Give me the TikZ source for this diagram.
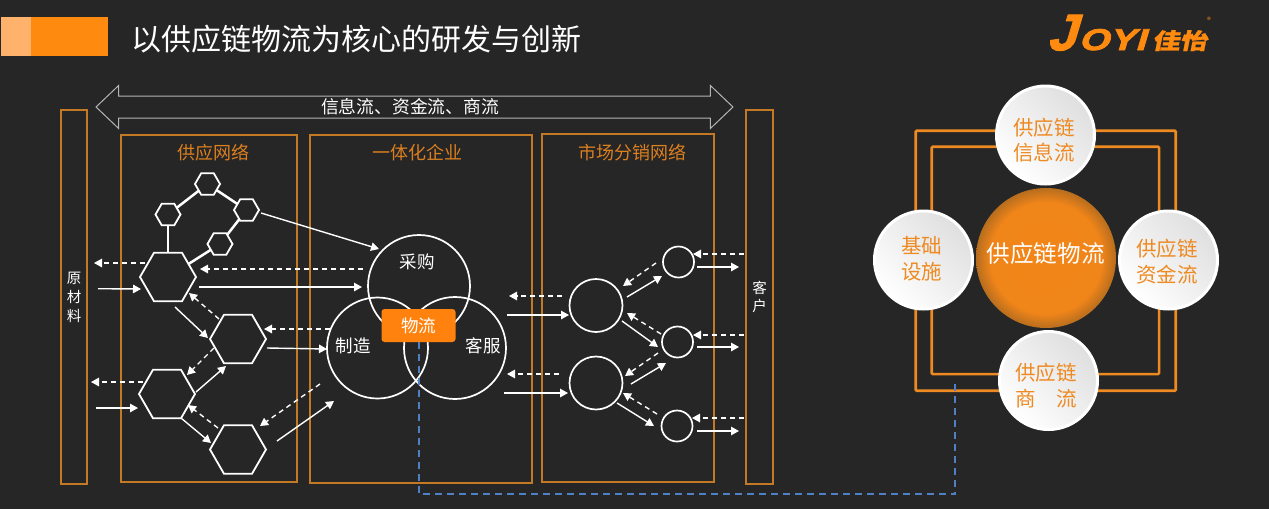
\documentclass[tikz,border=0pt]{standalone}
\usepackage{fontspec}
\setmainfont{Noto Sans CJK SC}
\newfontfamily\logoa[FakeSlant=.3,FakeBold=2.5]{Liberation Sans}
\newfontfamily\logoc[FakeSlant=.3,FakeStretch=1.3,FakeBold=2.5]{Liberation Sans}
\newfontfamily\logob[FakeSlant=.2,FakeStretch=1.25,FakeBold=1]{Noto Sans CJK SC}
\usetikzlibrary{arrows.meta,shapes.geometric,shapes.arrows}
\definecolor{bgc}{HTML}{262626}
\definecolor{boxc}{HTML}{C47A24}
\definecolor{orgc}{HTML}{EE8A22}
\definecolor{flagc}{HTML}{FF8A10}
\definecolor{flagl}{HTML}{FFB26B}
\definecolor{wlc}{HTML}{FF820E}
\definecolor{bluec}{HTML}{4F7FC4}
\definecolor{greyc}{HTML}{B4B4B4}
\pgfdeclareradialshading{orbshade}{\pgfpoint{0bp}{0bp}}{rgb(0bp)=(0.95,0.52,0.09); rgb(20bp)=(0.94,0.52,0.10); rgb(25bp)=(0.72,0.43,0.12); rgb(50bp)=(0.72,0.43,0.12)}
\newcommand\cn[5]{\draw[#1] ([shift={(#3)}]#2.center) -- ([shift={(#5)}]#4.center);}
\tikzset{
  x=1pt,y=-1pt,
  txt/.style={text=white,inner sep=0,outer sep=0,align=center},
  tbox/.style={draw=boxc,line width=1.4pt,rectangle,inner sep=0,outer sep=0},
  ttl/.style={text=orgc!92!black,inner sep=0,font=\fontsize{18}{21}\selectfont},
  hexbig/.style={regular polygon,regular polygon sides=6,draw=white,line width=1.8pt,minimum size=56pt,inner sep=0,outer sep=0},
  hexsm/.style={regular polygon,regular polygon sides=6,draw=white,line width=1.8pt,minimum size=25pt,inner sep=0,outer sep=0},
  link/.style={draw=white,line width=2.5pt},
  ring/.style={circle,draw=white,line width=1.7pt,inner sep=0,outer sep=0},
  sol/.style={draw=white,line width=1.4pt,-{Triangle[length=8pt,width=8.5pt]}},
  dsh/.style={draw=white,line width=1.4pt,dash pattern=on 5pt off 4pt,-{Triangle[length=8pt,width=8.5pt]}},
  frm/.style={rectangle,draw=orgc,line width=2.6pt,rounded corners=1pt,inner sep=0,outer sep=0},
  ball/.style={circle,draw=white,line width=3pt,inner sep=0,outer sep=0,minimum size=98pt,top color=gray!25,bottom color=white,shading angle=-45},
  balltxt/.style={text=orgc,inner sep=0,align=center,font=\fontsize{20.5}{25.5}\selectfont},
}
\begin{document}
\begin{tikzpicture}
\useasboundingbox[fill=bgc] (0,0) rectangle (1269,509);
% header
\node[fill=flagc,inner sep=0,minimum width=107pt,minimum height=39pt] (flag) at (54.5,36.5) {};
\node[fill=flagl,inner sep=0,minimum width=30pt,minimum height=39pt] (flagb) at (16,36.5) {};
\node[txt,anchor=west,font=\fontsize{30}{34}\selectfont] (title) at (131.5,39.5) {以供应链物流为核心的研发与创新};
% logo
\node[inner sep=0,text=flagc,anchor=base west] (logoj) at (1047,50) {{\logoa\bfseries\fontsize{51}{51}\selectfont J}\kern3pt{\logoc\bfseries\fontsize{30}{30}\selectfont OYI}};
\node[inner sep=0,text=flagc,anchor=base west,font=\logob\bfseries\fontsize{22}{22}\selectfont] (logoc) at (1152,49) {佳怡};
\node[inner sep=0,text=flagc,font=\fontsize{8}{8}\selectfont] (logor) at (1209,20) {®};
% top double arrow
\node[double arrow,draw=greyc,line width=1pt,minimum height=637pt,double arrow head extend=10.5pt,double arrow head indent=0pt,double arrow tip angle=87,inner sep=0,outer sep=0] (flow) at (414.5,107) {\rule{0pt}{21pt}};
\node[txt,font=\fontsize{17.8}{21}\selectfont] (flowt) at (410,107) {信息流、资金流、商流};
% big boxes
\node[tbox,minimum width=26pt,minimum height=374pt,txt,text=white,font=\fontsize{14.5}{19}\selectfont] (src) at (74,297) {原\\材\\料};
\node[tbox,minimum width=176pt,minimum height=347pt] (sup) at (209,308.5) {};
\node[tbox,minimum width=222pt,minimum height=348pt] (ent) at (421,309) {};
\node[tbox,minimum width=172pt,minimum height=348pt] (mkt) at (628,308) {};
\node[tbox,minimum width=27pt,minimum height=374pt,txt,text=white,font=\fontsize{14.5}{18}\selectfont] (cus) at (759.5,297) {客\\户};
\node[ttl] (supt) at (213,152.5) {供应网络};
\node[ttl] (entt) at (417,152.5) {一体化企业};
\node[ttl] (mktt) at (632,152.5) {市场分销网络};
% supply hexagons
\node[hexbig] (big1) at (168,277) {};
\node[hexbig] (hex2) at (238,339) {};
\node[hexbig] (hex3) at (167,394) {};
\node[hexbig] (hex4) at (238,449.5) {};
\node[hexsm] (st) at (207.5,184) {};
\node[hexsm] (sl) at (168,214.5) {};
\node[hexsm] (sr) at (246.5,210) {};
\node[hexsm] (sm) at (220,244) {};
\draw[link] (sl) -- (st);
\draw[link] (st) -- (sr);
\draw[link] (sr) -- (sm);
\draw[link] (sl) -- (big1);
\draw[link] (sm) -- (big1);
% enterprise circles
\node[ring,minimum size=102pt] (caigou) at (419,286) {};
\node[ring,minimum size=101pt] (zhizao) at (377.5,348) {};
\node[ring,minimum size=102pt] (kefu) at (455,348) {};
\node[txt,font=\fontsize{17.5}{21}\selectfont] (cgt) at (417,262) {采购};
\node[txt,font=\fontsize{17.5}{21}\selectfont] (zzt) at (353,346) {制造};
\node[txt,font=\fontsize{17.5}{21}\selectfont] (kft) at (483,346) {客服};
% market circles
\node[ring,minimum size=53pt] (c1) at (596,305.5) {};
\node[ring,minimum size=53pt] (c2) at (596,383) {};
\node[ring,minimum size=31pt] (s1) at (678.5,262) {};
\node[ring,minimum size=31pt] (s2) at (677.5,342) {};
\node[ring,minimum size=31pt] (s3) at (677,426) {};
% arrows, supply side
\cn{dsh}{big1}{-23,-14}{src}{20,-34}
\cn{sol}{src}{24,-8.3}{big1}{-27,12}
\cn{dsh}{caigou}{-56,-17}{big1}{32,-8}
\cn{sol}{big1}{31,10}{caigou}{-57,1}
\cn{sol}{sr}{14.5,3}{caigou}{-40,-37}
\cn{sol}{big1}{7,30}{hex2}{-30,-1}
\cn{dsh}{hex2}{-19,-20}{big1}{21,16}
\cn{dsh}{hex2}{-24,9}{hex3}{20,-19}
\cn{sol}{hex3}{29,-2}{hex2}{-12,27}
\cn{dsh}{hex3}{-24,-12}{src}{17,85}
\cn{sol}{src}{22,111}{hex3}{-29,14}
\cn{dsh}{hex4}{-20,-21.5}{hex3}{21,11}
\cn{sol}{hex3}{14,24}{hex4}{-27,-6.5}
\cn{dsh}{zhizao}{-47.5,-19}{hex2}{26,-10}
\cn{sol}{hex2}{29,9}{zhizao}{-50.5,1}
\cn{dsh}{zhizao}{-57.5,36}{hex4}{22,-23.5}
\cn{sol}{hex4}{39,-8.5}{zhizao}{-43.5,53}
% arrows, market side
\cn{dsh}{c1}{-34,-9.5}{kefu}{54,-52}
\cn{sol}{kefu}{52,-33}{c1}{-27,9.5}
\cn{dsh}{c2}{-37,-9}{kefu}{52,26}
\cn{sol}{kefu}{49,45}{c2}{-28,10}
\cn{dsh}{s1}{-22.5,1}{c1}{27,-19.5}
\cn{sol}{c1}{31,-8.5}{s1}{-16.5,14}
\cn{dsh}{s2}{-16.5,-8}{c1}{31,7.5}
\cn{sol}{c1}{26,15.5}{s2}{-19.5,5}
\cn{dsh}{s2}{-19.5,11}{c2}{29,-7}
\cn{sol}{c2}{35,1}{s2}{-11.5,21}
\cn{dsh}{s3}{-20,-12}{c2}{27,10}
\cn{sol}{c2}{21,20}{s3}{-23,0}
\cn{dsh}{cus}{-15.5,-43}{s1}{14.5,-8}
\cn{sol}{s1}{18.5,5}{cus}{-20.5,-30}
\cn{dsh}{cus}{-15.5,38}{s2}{15.5,-7}
\cn{sol}{s2}{19.5,5}{cus}{-20.5,50}
\cn{dsh}{cus}{-15.5,121}{s3}{15,-8}
\cn{sol}{s3}{20,5}{cus}{-20.5,134}
% right frames
\node[frm,minimum width=260pt,minimum height=260pt] (fo) at (1045.7,260.7) {};
\node[frm,minimum width=227.3pt,minimum height=227.3pt] (fi) at (1045.4,260.4) {};
% logistics badge and blue link
\node[fill=wlc,rounded corners=3pt,inner sep=0,outer sep=0,minimum width=74pt,minimum height=33pt,text=white,font=\fontsize{17.5}{21}\selectfont] (wl) at (418.5,325.5) {物流};
\coordinate (b1) at (418.5,494);
\coordinate (b2) at (955,494);
\coordinate (b3) at (955,383);
\draw[bluec,line width=2pt,dash pattern=on 7pt off 5pt] (wl.south) -- (b1) -- (b2) -- (b3);
% right balls
\node[circle,shade,shading=orbshade,inner sep=0,outer sep=0,minimum size=140pt] (core) at (1046,258) {};
\node[ball] (btop) at (1045.5,135) {};
\node[ball] (bleft) at (923.5,260) {};
\node[ball] (bright) at (1168.5,260) {};
\node[ball] (bbot) at (1048.5,380.5) {};
\node[txt,font=\fontsize{23.6}{28}\selectfont] (coret) at (1045.6,254) {供应链物流};
\node[balltxt] (ttop) at (1044,140) {供应链\\信息流};
\node[balltxt] (tleft) at (921.7,258.5) {基础\\设施};
\node[balltxt] (tright) at (1167,261.5) {供应链\\资金流};
\node[balltxt] (tbot) at (1046,385.5) {供应链\\商\hspace{1em}流};
\end{tikzpicture}
\end{document}
